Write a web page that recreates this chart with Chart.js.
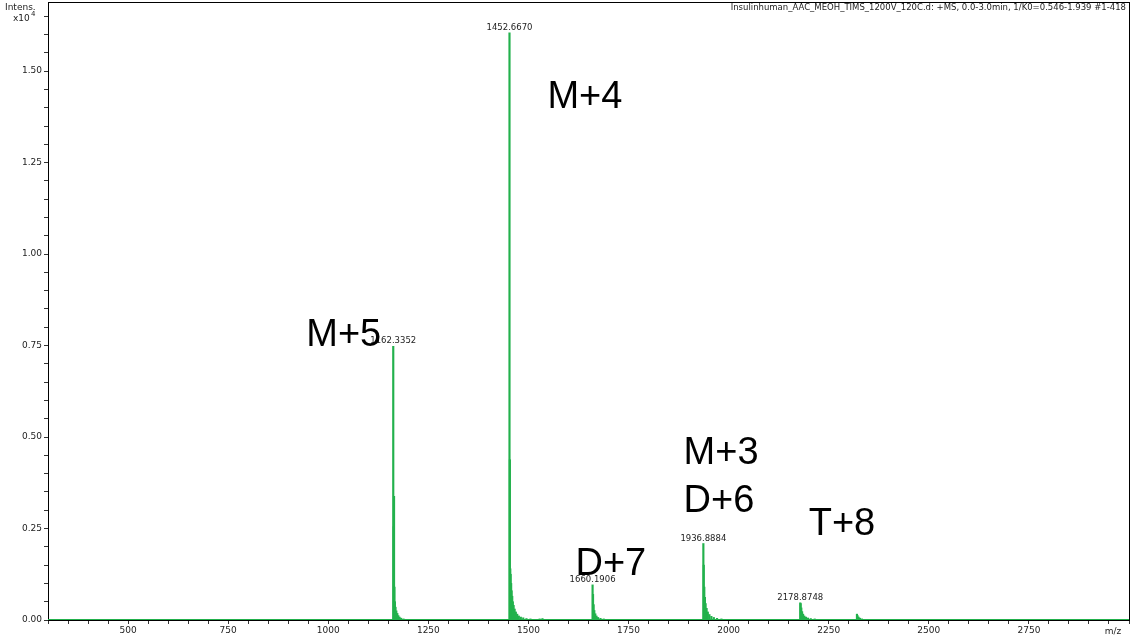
<!DOCTYPE html>
<html><head><meta charset="utf-8">
<script src="https://cdn.jsdelivr.net/npm/chart.js@4.4.0/dist/chart.umd.min.js"></script>
<style>html,body{margin:0;padding:0;background:#fff}#wrap{width:1134px;height:641px;position:relative}</style>
</head><body><div id="wrap"><canvas id="c" width="1134" height="641"></canvas></div>
<script>
// ---- data (m/z, intensity in counts) ----
const peakMz = [
  1162.34, 1163.4, 1164.3, 1165.3, 1166.5, 1168, 1170, 1172.5, 1175, 1178, 1182, 1188,
  1452.67, 1453.6, 1454.6, 1455.6, 1456.8, 1458, 1459.5, 1461, 1463, 1465.5, 1468.5, 1472, 1476, 1481, 1487, 1495, 1505, 1528, 1535,
  1660.19, 1661.3, 1662.8, 1664.5, 1667, 1670, 1674, 1680, 1688,
  1936.89, 1937.9, 1939.2, 1940.8, 1942.5, 1945, 1948, 1952, 1957, 1963, 1971, 1982,
  2178.87, 2180, 2181.5, 2183.5, 2186, 2189, 2193, 2198, 2205, 2215,
  2320.5, 2322, 2324.5, 2328, 2333
];
const peakIntensity = [
  7480, 2550, 3380, 900, 500, 350, 250, 180, 120, 80, 50, 30,
  16050, 4380, 1400, 1250, 1000, 800, 650, 500, 400, 300, 220, 160, 110, 80, 60, 40, 30, 30, 40,
  960, 700, 420, 260, 170, 110, 70, 45, 30,
  2090, 1500, 900, 620, 450, 320, 220, 150, 100, 70, 45, 30,
  470, 450, 330, 230, 160, 110, 80, 55, 40, 30,
  160, 120, 80, 50, 30
];
const xTickLabels = [500, 750, 1000, 1250, 1500, 1750, 2000, 2250, 2500, 2750];
const yTickValues = [0, 2500, 5000, 7500, 10000, 12500, 15000];
const yTickLabels = ['0.00', '0.25', '0.50', '0.75', '1.00', '1.25', '1.50'];
const peakLabelMz = [1162.3352, 1452.6670, 1660.1906, 1936.8884, 2178.8748];
const peakLabelText = ['1162.3352', '1452.6670', '1660.1906', '1936.8884', '2178.8748'];
const peakLabelIntensity = [7480, 16050, 960, 2090, 470];
const annotationText = ['M+4', 'M+5', 'M+3', 'D+6', 'D+7', 'T+8'];
const annotationMz = [1547.5, 945, 1887.5, 1887.5, 1617.5, 2200];
const annotationIntensity = [14000, 7500, 4260, 2940, 1240, 2310];
const titleText = 'Insulinhuman_AAC_MEOH_TIMS_1200V_120C.d: +MS, 0.0-3.0min, 1/K0=0.546-1.939 #1-418';
const xMin = 300, xMax = 3000, xMinorStep = 50;
const yMax = 16890, yMinorStep = 500;

const GREEN = '#22b14c';
const TXT = '#222';

const overlay = {
  id: 'overlay',
  beforeDatasetsDraw(chart) {
    const {ctx, chartArea: a} = chart;
    ctx.save();
    ctx.strokeStyle = '#000';
    ctx.lineWidth = 1;
    ctx.strokeRect(Math.round(a.left) + 0.5, Math.round(a.top) + 0.5, Math.round(a.right - a.left), Math.round(a.bottom - a.top));
    ctx.restore();
  },
  afterDraw(chart) {
    const {ctx, scales: {x, y}} = chart;
    ctx.save();
    ctx.fillStyle = TXT;
    // title
    ctx.font = '8.5px "DejaVu Sans"';
    ctx.textAlign = 'right';
    ctx.textBaseline = 'alphabetic';
    ctx.fillText(titleText, 1126, 10);
    // axis captions
    ctx.textAlign = 'left';
    ctx.font = '9px "DejaVu Sans"';
    ctx.fillText('Intens.', 5, 10);
    ctx.fillText('x10', 13, 21);
    ctx.font = '7px "DejaVu Sans"';
    ctx.fillText('4', 31, 16);
    ctx.font = '9px "DejaVu Sans"';
    ctx.textAlign = 'center';
    ctx.fillText('m/z', 1113, 634);
    // peak labels
    ctx.font = '8.5px "DejaVu Sans"';
    ctx.textAlign = 'center';
    peakLabelMz.forEach((m, i) => {
      ctx.fillText(peakLabelText[i], x.getPixelForValue(m), y.getPixelForValue(peakLabelIntensity[i]) - 3);
    });
    // annotations
    ctx.fillStyle = '#000';
    ctx.font = '38px "Liberation Sans"';
    ctx.textAlign = 'left';
    annotationText.forEach((t, i) => {
      ctx.fillText(t, x.getPixelForValue(annotationMz[i]), y.getPixelForValue(annotationIntensity[i]));
    });
    ctx.restore();
  }
};

new Chart(document.getElementById('c'), {
  type: 'bar',
  data: {
    datasets: [
      {
        type: 'bar',
        data: peakMz.map((m, i) => ({x: m, y: peakIntensity[i]})),
        backgroundColor: GREEN,
        barThickness: 1.5,
        grouped: false
      },
      {
        type: 'line',
        data: [{x: xMin, y: 0}, {x: xMax, y: 0}],
        borderColor: GREEN,
        borderWidth: 2,
        pointRadius: 0
      }
    ]
  },
  options: {
    responsive: false,
    animation: false,
    devicePixelRatio: 1,
    layout: {padding: {top: 2, right: 5, left: 0, bottom: 0}},
    plugins: {legend: {display: false}, tooltip: {enabled: false}},
    scales: {
      x: {
        type: 'linear',
        min: xMin, max: xMax,
        offset: false,
        afterBuildTicks(s) {
          const t = [];
          for (let v = xMin; v <= xMax; v += xMinorStep) t.push({value: v});
          s.ticks = t;
        },
        afterFit(s) { s.height = 21; s.paddingLeft = 0; s.paddingRight = 0; },
        ticks: {
          autoSkip: false, maxRotation: 0, minRotation: 0, padding: 1,
          color: TXT, font: {family: 'DejaVu Sans', size: 9},
          callback: v => xTickLabels.includes(v) ? String(v) : ''
        },
        grid: {drawOnChartArea: false, tickLength: 4, color: '#333', offset: false},
        border: {color: '#000', width: 1}
      },
      y: {
        min: 0, max: yMax,
        afterBuildTicks(s) {
          const t = [];
          for (let v = 0; v <= yMax; v += yMinorStep) t.push({value: v});
          s.ticks = t;
        },
        afterFit(s) { s.width = 48; s.paddingTop = 0; s.paddingBottom = 0; },
        ticks: {
          autoSkip: false, padding: 2,
          color: TXT, font: {family: 'DejaVu Sans', size: 9},
          callback: v => { const k = yTickValues.indexOf(v); return k >= 0 ? yTickLabels[k] : ''; }
        },
        grid: {drawOnChartArea: false, tickLength: 4, color: '#333'},
        border: {color: '#000', width: 1}
      }
    }
  },
  plugins: [overlay]
});
</script>
</body></html>
